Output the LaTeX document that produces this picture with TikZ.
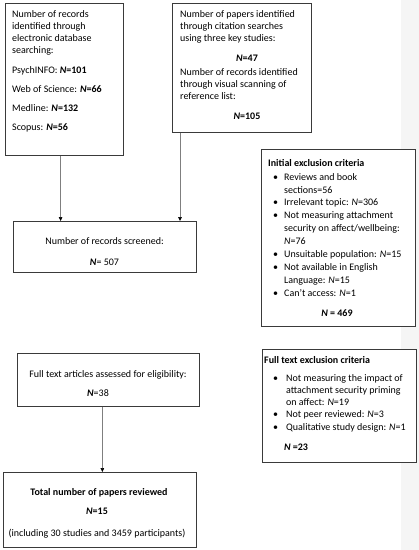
\documentclass[tikz,border=0pt]{standalone}
\usepackage{fontspec}
\setmainfont{Carlito}
\usetikzlibrary{arrows.meta}
\definecolor{strip}{HTML}{F5F5F5}
\definecolor{edge}{HTML}{3A3A3A}
\definecolor{wire}{HTML}{7F7F7F}
\newcommand{\Nb}{\textbf{\textit{N}}}
\newcommand{\Ni}{\textit{N}}
\newcommand{\bul}[1]{\makebox[#1][l]{•}}
\begin{document}
\begin{tikzpicture}[x=1pt,y=-1pt,
 box/.style={draw=edge, fill=white, line width=0.7pt, inner sep=0pt, anchor=north west},
 txt/.style={inner sep=0pt, align=left, anchor=north west, font=\fontsize{10}{12}\selectfont},
 ctxt/.style={inner sep=0pt, align=center, anchor=north, font=\fontsize{10}{12}\selectfont},
 btxt/.style={font=\bfseries\fontsize{10}{12}\selectfont},
 link/.style={draw=wire, line width=0.5pt, -{Triangle[length=4pt,width=3.6pt,color=black]}}]
\useasboundingbox (0,0) rectangle (419,550);
\fill[strip] (401,0) rectangle (419,550);

% boxes
\node[box, line width=1.2pt, minimum width=118pt, minimum height=152pt] (A) at (5,3) {};
\node[box, minimum width=139pt, minimum height=129pt] (B) at (172,3) {};
\node[box, minimum width=183pt, minimum height=51pt] (C) at (13,221) {};
\node[box, minimum width=154pt, minimum height=177pt] (D) at (261,149) {};
\node[box, minimum width=154pt, minimum height=113pt] (E) at (262,349) {};
\node[box, minimum width=182pt, minimum height=53pt] (F) at (17,353) {};
\node[box, minimum width=193pt, minimum height=75pt] (G) at (3,472) {};

% texts A
\node[txt] (tA) at (12,10) {Number of records\\identified through\\electronic database\\searching:\\[8pt]PsychINFO: \Nb\textbf{=101}\\[7pt]Web of Science: \Nb\textbf{=66}\\[7pt]Medline: \Nb\textbf{=132}\\[7pt]Scopus: \Nb\textbf{=56}};

% texts B
\node[txt] (tB1) at (180,10) {Number of papers identified\\through citation searches\\using three key studies:};
\node[ctxt] (tB2) at (247,55) {\Nb\textbf{=47}};
\node[txt] (tB3) at (180,68) {Number of records identified\\through visual scanning of\\reference list:};
\node[ctxt] (tB4) at (247,113) {\Nb\textbf{=105}};

% texts C
\node[ctxt] (tC) at (104.5,237) {Number of records screened:\\[9pt]\Nb= 507};

% texts D
\node[txt, btxt] (tD0) at (268,159) {Initial exclusion criteria};
\node[txt, font=\fontsize{10}{12.9}\selectfont] (tD1) at (273,173) {\bul{11pt}Reviews and book\\\hspace*{11pt}sections=56\\\bul{11pt}Irrelevant topic: \Ni=306\\\bul{11pt}Not measuring attachment\\\hspace*{11pt}security on affect/wellbeing:\\\hspace*{11pt}\Ni=76\\\bul{11pt}Unsuitable population: \Ni=15\\\bul{11pt}Not available in English\\\hspace*{11pt}Language: \Ni=15\\\bul{11pt}Can’t access: \Ni=1};
\node[ctxt, btxt] (tD2) at (337,309) {\textit{N} = 469};

% texts E
\node[txt, btxt] (tE0) at (264,356) {Full text exclusion criteria};
\node[txt, font=\fontsize{10}{12.25}\selectfont] (tE1) at (273,374) {\bul{13pt}Not measuring the impact of\\\hspace*{13pt}attachment security priming\\\hspace*{13pt}on affect: \Ni=19\\\bul{13pt}Not peer reviewed: \Ni=3\\\bul{13pt}Qualitative study design: \Ni=1};
\node[ctxt, btxt] (tE2) at (296,444) {\textit{N} =23};

% texts F
\node[ctxt] (tF1) at (108,370) {Full text articles assessed for eligibility:};
\node[ctxt] (tF2) at (98,389) {\Nb=38};

% texts G
\node[ctxt, btxt] (tG1) at (99,488) {Total number of papers reviewed};
\node[ctxt, btxt] (tG2) at (97,508) {\textit{N}=15};
\node[ctxt] (tG3) at (97,529) {(including 30 studies and 3459 participants)};

% connectors
\coordinate (a1) at ([xshift=-4pt]A.south);
\coordinate (b1) at ([xshift=8pt]B.south west);
\coordinate (f1) at ([xshift=-6pt]F.south);
\draw[link] (a1) -- (a1 |- C.north);
\draw[link] (b1) -- (b1 |- C.north);
\draw[link] (f1) -- (f1 |- G.north);
\end{tikzpicture}
\end{document}
